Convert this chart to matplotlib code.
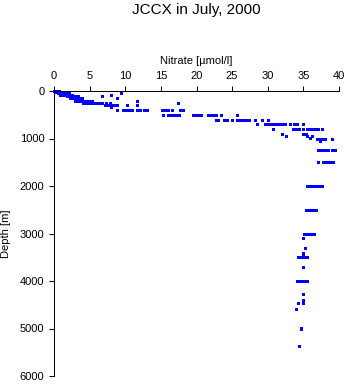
import matplotlib
matplotlib.use("Agg")
import matplotlib.pyplot as plt

plt.rcParams['font.family'] = ['Liberation Sans', 'DejaVu Sans']

# Data: (depth [m], nitrate [umol/l])
depth = (
    [0] * 5 + [10] * 4 + [25] * 5 + [50] * 7 + [75] * 6 + [100] * 6 + [150] * 6
    + [200] * 8 + [250] * 11 + [300] * 7 + [340] + [400] * 15 + [500] * 16
    + [600] * 13 + [700] * 13 + [800] * 11 + [900] * 3 + [950] * 3 + [990]
    + [1000] * 5 + [1050] + [1250] * 7 + [1500] * 6 + [2000] * 7 + [2500] * 5
    + [3000] * 5 + [3100] + [3300] + [3420] + [3450] + [3500] * 4 + [3700]
    + [4000] * 5 + [4280] + [4400] + [4470] * 2 + [4580] + [4980] + [5020] + [5370]
)
nitrate = (
    [0.0, 0.15, 0.3, 0.45, 0.6]
    + [0.0, 0.2, 0.4, 0.7]
    + [0.1, 0.4, 0.7, 1.0, 1.3]
    + [0.6, 0.9, 1.2, 1.5, 1.8, 2.1, 9.4]
    + [0.9, 1.3, 1.7, 2.1, 2.5, 8.0]
    + [1.8, 2.2, 2.6, 3.0, 3.4, 6.7]
    + [2.3, 2.7, 3.1, 3.5, 3.9, 8.8]
    + [3.0, 3.4, 3.8, 4.2, 4.6, 5.0, 5.4, 11.7]
    + [4.0, 4.4, 4.8, 5.2, 5.6, 6.0, 6.4, 6.8, 7.3, 7.9, 17.4]
    + [7.2, 7.6, 8.0, 8.4, 8.8, 10.3, 11.7]
    + [8.0]
    + [8.8, 9.7, 10.1, 10.5, 11.0, 11.6, 12.0, 12.7, 13.1, 15.2, 15.6, 16.0, 16.6, 17.7, 18.1]
    + [15.3, 16.0, 16.4, 16.8, 17.2, 17.5, 19.5, 19.9, 20.3, 20.7, 21.6, 22.0, 22.3, 22.7, 23.5, 25.7]
    + [22.7, 23.0, 23.9, 24.3, 25.0, 25.7, 26.1, 26.5, 26.9, 27.3, 28.2, 29.2, 30.1]
    + [28.5, 29.6, 30.0, 30.4, 30.8, 31.2, 31.6, 32.0, 32.4, 33.1, 33.7, 34.1, 35.0]
    + [30.7, 33.6, 34.0, 34.4, 35.0, 35.5, 35.9, 36.3, 36.7, 37.0, 37.6]
    + [32.0, 35.0, 35.3]
    + [32.6, 35.5, 36.2]
    + [35.9]
    + [36.9, 37.3, 37.7, 38.0, 39.0]
    + [37.3]
    + [37.0, 37.4, 37.8, 38.2, 38.5, 39.0, 39.4]
    + [37.0, 37.7, 38.1, 38.5, 38.9, 39.2]
    + [35.5, 35.9, 36.2, 36.5, 36.9, 37.3, 37.6]
    + [35.4, 35.8, 36.2, 36.6, 36.8]
    + [35.1, 35.5, 35.9, 36.3, 36.5]
    + [35.0]
    + [35.2]
    + [34.9]
    + [34.9]
    + [34.3, 34.7, 35.1, 35.5]
    + [34.9]
    + [34.1, 34.5, 34.9, 35.3, 35.5]
    + [34.9]
    + [34.9]
    + [34.2, 34.9]
    + [34.0]
    + [34.7]
    + [34.7]
    + [34.4]
)

x_ticks = [0, 5, 10, 15, 20, 25, 30, 35, 40]
y_ticks = [0, 1000, 2000, 3000, 4000, 5000, 6000]

W, H = 348, 384
fig = plt.figure(figsize=(W / 100, H / 100), dpi=100)
ax = fig.add_axes([54 / W, 1 - 376 / H, (339 - 54) / W, (376 - 91) / H])

ax.plot(nitrate, depth, linestyle='none', marker='s', markersize=2.16,
        markeredgewidth=0, color='#0000ff', clip_on=False)

ax.set_xlim(0, 40)
ax.set_ylim(6000, 0)
ax.set_xticks(x_ticks)
ax.set_yticks(y_ticks)
ax.xaxis.tick_top()
ax.xaxis.set_label_position('top')
for s in ['right', 'bottom']:
    ax.spines[s].set_visible(False)
for s in ['left', 'top']:
    ax.spines[s].set_linewidth(0.72)
ax.tick_params(direction='out', length=3.5, width=0.72, labelsize=8, pad=3.5,
               colors='black')
ax.set_xlabel('Nitrate [\u00b5mol/l]', fontsize=8, labelpad=5)
ax.set_ylabel('Depth [m]', fontsize=8, labelpad=6)

fig.text((54 + 339) / 2 / W, 1 - 3 / H, 'JCCX in July, 2000', ha='center',
         va='top', fontsize=11)

fig.savefig('out.png', dpi=100)
